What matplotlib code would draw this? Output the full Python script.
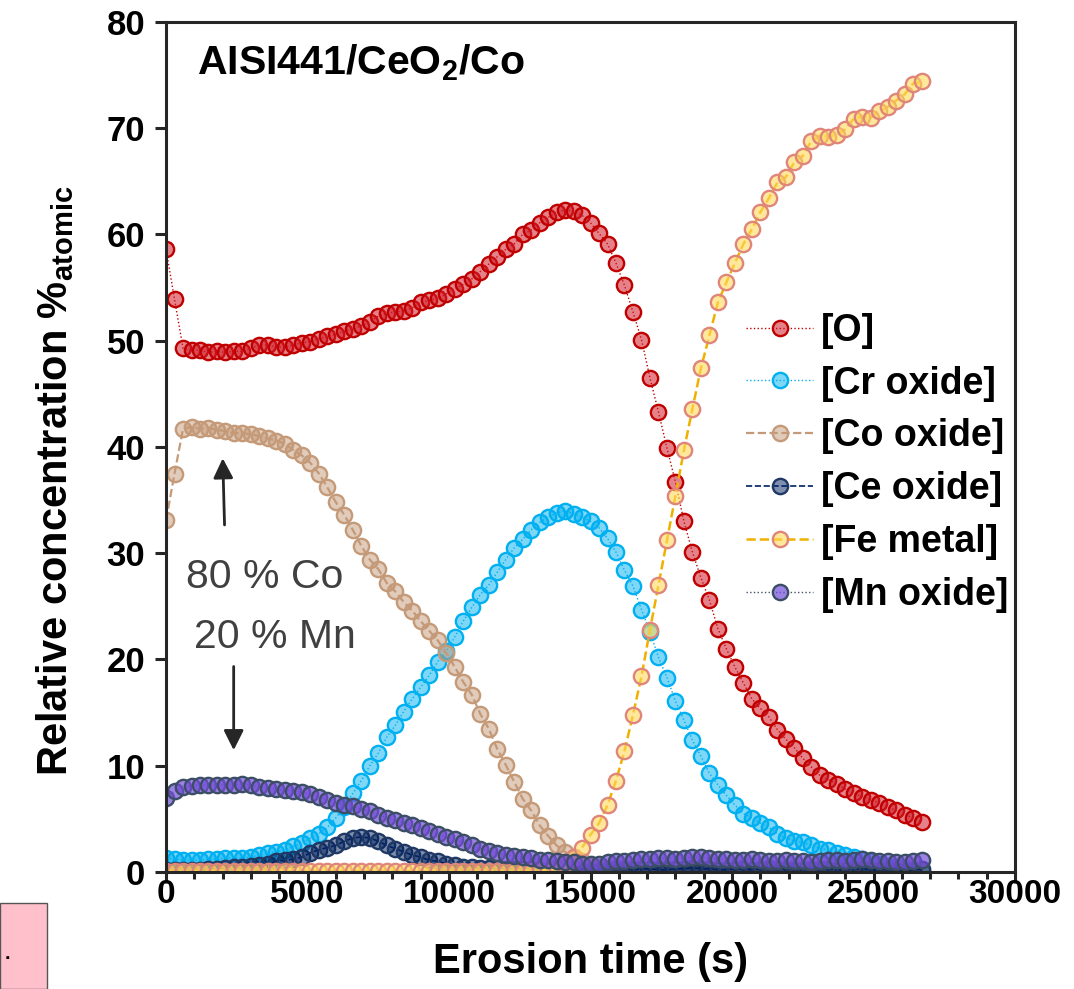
import matplotlib
matplotlib.use("Agg")
import matplotlib.pyplot as plt
from matplotlib.patches import Rectangle
from matplotlib.ticker import MultipleLocator

plt.rcParams['font.family'] = ['Liberation Sans', 'DejaVu Sans']
plt.rcParams['mathtext.fontset'] = 'custom'
plt.rcParams['mathtext.rm'] = 'Liberation Sans'
plt.rcParams['mathtext.bf'] = 'Liberation Sans:bold'

# erosion time (s)
time_s = [0, 300, 600, 900, 1200, 1500, 1800, 2100, 2400, 2700,
          3000, 3300, 3600, 3900, 4200, 4500, 4800, 5100, 5400, 5700,
          6000, 6300, 6600, 6900, 7200, 7500, 7800, 8100, 8400, 8700,
          9000, 9300, 9600, 9900, 10200, 10500, 10800, 11100, 11400, 11700,
          12000, 12300, 12600, 12900, 13200, 13500, 13800, 14100, 14400, 14700,
          15000, 15300, 15600, 15900, 16200, 16500, 16800, 17100, 17400, 17700,
          18000, 18300, 18600, 18900, 19200, 19500, 19800, 20100, 20400, 20700,
          21000, 21300, 21600, 21900, 22200, 22500, 22800, 23100, 23400, 23700,
          24000, 24300, 24600, 24900, 25200, 25500, 25800, 26100, 26400, 26700]

o_conc = [58.6, 53.9, 49.3, 49.1, 49.1, 48.9, 49.0, 48.9, 49.0, 49.0,
          49.3, 49.6, 49.6, 49.4, 49.4, 49.6, 49.8, 49.9, 50.2, 50.4,
          50.6, 50.9, 51.1, 51.4, 51.8, 52.3, 52.6, 52.7, 52.8, 53.1,
          53.6, 53.8, 54.0, 54.4, 54.9, 55.3, 55.8, 56.5, 57.2, 57.9,
          58.6, 59.1, 60.0, 60.4, 61.1, 61.6, 62.1, 62.3, 62.2, 61.8,
          61.1, 60.1, 59.1, 57.3, 55.2, 52.7, 50.1, 46.5, 43.3, 39.9,
          36.7, 33.0, 30.1, 27.7, 25.6, 22.9, 21.0, 19.3, 17.8, 16.3,
          15.4, 14.6, 13.4, 12.5, 11.7, 10.7, 9.9, 9.1, 8.7, 8.3,
          7.8, 7.4, 7.1, 6.8, 6.5, 6.1, 5.8, 5.4, 5.1, 4.7]

cr_conc = [1.3, 1.2, 1.1, 1.1, 1.1, 1.2, 1.2, 1.3, 1.3, 1.3,
           1.4, 1.6, 1.8, 1.9, 2.1, 2.4, 2.7, 3.2, 3.6, 4.2,
           5.1, 6.1, 7.4, 8.6, 10.0, 11.2, 12.7, 13.8, 15.1, 16.3,
           17.4, 18.5, 19.8, 20.8, 22.1, 23.6, 24.9, 26.1, 27.0, 28.2,
           29.4, 30.5, 31.3, 32.2, 32.9, 33.4, 33.8, 34.0, 33.7, 33.4,
           33.0, 32.4, 31.4, 30.1, 28.4, 26.9, 24.7, 22.6, 20.2, 18.3,
           16.1, 14.3, 12.4, 10.9, 9.3, 8.2, 7.2, 6.3, 5.5, 5.1,
           4.6, 4.2, 3.6, 3.2, 2.9, 2.8, 2.5, 2.2, 2.1, 1.8,
           1.6, 1.4, 1.2, 1.0, 0.8, 0.6, 0.5, 0.4, 0.2, 0.1]

co_conc = [33.1, 37.5, 41.7, 41.9, 41.7, 41.8, 41.6, 41.5, 41.3, 41.3,
           41.2, 41.0, 40.8, 40.6, 40.3, 39.7, 39.2, 38.5, 37.5, 36.2,
           34.8, 33.6, 32.2, 30.7, 29.4, 28.5, 27.2, 26.4, 25.4, 24.6,
           23.6, 22.7, 21.8, 20.6, 19.3, 17.9, 16.7, 14.9, 13.5, 11.6,
           10.1, 8.5, 6.9, 5.8, 4.4, 3.4, 2.5, 1.9, 1.4, 1.0,
           0.7, 0.5, 0.4, 0.4, 0.4, 0.3, 0.3, 0.3, 0.3, 0.3,
           0.2, 0.3, 0.2, 0.2, 0.2, 0.2, 0.2, 0.2, 0.3, 0.2,
           0.2, 0.2, 0.2, 0.1, 0.1, 0.2, 0.2, 0.1, 0.1, 0.1,
           0.2, 0.1, 0.1, 0.1, 0.1, 0.1, 0.2, 0.1, 0.1, 0.1]

ce_conc = [0.2, 0.2, 0.2, 0.2, 0.2, 0.3, 0.3, 0.4, 0.45, 0.5,
           0.6, 0.7, 0.8, 1.0, 1.1, 1.2, 1.4, 1.8, 2.1, 2.3,
           2.5, 2.9, 3.2, 3.3, 3.2, 2.9, 2.5, 2.2, 1.9, 1.6,
           1.4, 1.1, 1.0, 0.8, 0.7, 0.5, 0.45, 0.4, 0.4, 0.35,
           0.3, 0.3, 0.3, 0.25, 0.2, 0.2, 0.15, 0.1, 0.05, 0.05,
           0.1, 0.1, 0.2, 0.3, 0.3, 0.2, 0.3, 0.3, 0.2, 0.2,
           0.3, 0.3, 0.4, 0.3, 0.3, 0.2, 0.2, 0.3, 0.3, 0.2,
           0.3, 0.4, 0.3, 0.3, 0.2, 0.2, 0.3, 0.3, 0.3, 0.2,
           0.2, 0.3, 0.3, 0.2, 0.2, 0.3, 0.2, 0.1, 0.2, 0.3]

fe_conc = [0.1, 0.1, 0.1, 0.1, 0.1, 0.1, 0.1, 0.1, 0.1, 0.1,
           0.1, 0.1, 0.1, 0.1, 0.1, 0.1, 0.1, 0.1, 0.1, 0.1,
           0.1, 0.1, 0.1, 0.1, 0.1, 0.1, 0.1, 0.1, 0.1, 0.1,
           0.1, 0.1, 0.1, 0.1, 0.1, 0.1, 0.1, 0.1, 0.1, 0.1,
           0.1, 0.1, 0.1, 0.1, 0.1, 0.2, 0.4, 0.8, 1.4, 2.3,
           3.5, 4.6, 6.3, 8.6, 11.4, 14.8, 18.4, 22.8, 27.0, 31.2,
           35.4, 39.7, 43.6, 47.4, 50.5, 53.6, 55.5, 57.3, 59.1, 60.5,
           62.1, 63.4, 64.9, 65.4, 66.8, 67.4, 68.8, 69.3, 69.2, 69.4,
           69.9, 70.9, 71.1, 71.0, 71.6, 72.0, 72.6, 73.2, 74.2, 74.4]

mn_conc = [7.0, 7.6, 8.0, 8.1, 8.2, 8.2, 8.2, 8.2, 8.2, 8.3,
           8.2, 8.0, 7.9, 7.8, 7.7, 7.6, 7.5, 7.3, 7.1, 6.8,
           6.5, 6.3, 6.2, 5.9, 5.7, 5.4, 5.1, 4.9, 4.6, 4.4,
           4.1, 3.9, 3.6, 3.3, 3.1, 2.8, 2.5, 2.2, 2.0, 1.8,
           1.6, 1.5, 1.4, 1.3, 1.1, 1.1, 1.0, 0.9, 0.9, 0.8,
           0.8, 0.8, 0.9, 1.0, 1.0, 1.1, 1.2, 1.2, 1.3, 1.3,
           1.2, 1.3, 1.4, 1.4, 1.3, 1.2, 1.2, 1.1, 1.1, 1.2,
           1.1, 1.0, 1.0, 1.1, 1.0, 1.0, 0.9, 1.0, 1.1, 1.1,
           1.0, 1.1, 1.2, 1.1, 1.0, 1.0, 0.9, 0.9, 1.0, 1.1]

labels = ['[O]', '[Cr oxide]', '[Co oxide]', '[Ce oxide]', '[Fe metal]', '[Mn oxide]']

fig = plt.figure(figsize=(10.74, 9.89), dpi=100)
ax = fig.add_axes([0.1546, 0.1183, 0.7905, 0.8595])

ms = 11
mew = 1.7
# [O]
ax.plot(time_s, o_conc, ':', color='#C00000', lw=1.0, marker='o', ms=ms, mew=mew,
        mec='#C00000', mfc=(0.82, 0.1, 0.15, 0.55), label=labels[0])
# [Cr oxide]
ax.plot(time_s, cr_conc, ':', color='#00B0F0', lw=1.0, marker='o', ms=ms, mew=mew,
        mec='#00B0F0', mfc=(0.0, 0.69, 0.94, 0.5), label=labels[1])
# [Co oxide]
ax.plot(time_s, co_conc, '--', color='#C49A78', lw=1.6, marker='o', ms=ms, mew=mew,
        mec='#C49A78', mfc=(0.77, 0.60, 0.47, 0.5), label=labels[2])
# [Ce oxide]
ax.plot(time_s, ce_conc, '--', color='#002060', lw=1.2, marker='o', ms=ms, mew=mew,
        mec='#1F3864', mfc=(0.0, 0.13, 0.38, 0.5), label=labels[3])
# [Fe metal]
ax.plot(time_s, fe_conc, '--', color='#F0B000', lw=1.8, marker='o', ms=ms, mew=mew,
        mec='#E0857A', mfc=(1.0, 0.85, 0.35, 0.6), label=labels[4])
# [Mn oxide]
ax.plot(time_s, mn_conc, ':', color='#44546A', lw=1.0, marker='o', ms=ms, mew=mew,
        mec='#3B4E66', mfc=(0.45, 0.30, 0.85, 0.7), label=labels[5])

ax.set_xlim(0, 30000)
ax.set_ylim(0, 80)
ax.xaxis.set_major_locator(MultipleLocator(5000))
ax.xaxis.set_minor_locator(MultipleLocator(1000))
ax.yaxis.set_major_locator(MultipleLocator(10))

for sp in ax.spines.values():
    sp.set_linewidth(2.2)
    sp.set_color('#262626')
ax.tick_params(axis='both', which='major', direction='out', length=8, width=2.2,
               color='#262626')
ax.tick_params(axis='x', which='major', labelsize=24, pad=-3)
ax.tick_params(axis='y', which='major', labelsize=25, pad=7)
ax.tick_params(axis='x', which='minor', direction='out', length=5, width=2.2,
               color='#262626')
for lab in ax.get_xticklabels() + ax.get_yticklabels():
    lab.set_fontweight('bold')

ax.set_xlabel('Erosion time (s)', fontsize=30, fontweight='bold', labelpad=23)
ax.set_ylabel(r'Relative concentration %$_\mathbf{atomic}$', fontsize=30,
              fontweight='bold', labelpad=22)
ax.yaxis.label.set_y(0.46)

ax.text(1110, 76.2, r'AISI441/CeO$_\mathbf{2}$/Co', fontsize=29.5, fontweight='bold',
        ha='left', va='center')

ax.text(3500, 27.8, '80 % Co', fontsize=29.5, color='#404040', ha='center', va='center')
ax.text(3860, 22.1, '20 % Mn', fontsize=29.5, color='#404040', ha='center', va='center')
ax.annotate('', xy=(2000, 39.2), xytext=(2070, 32.4),
            arrowprops=dict(arrowstyle='-|>', color='#262626', lw=2,
                            mutation_scale=30))
ax.annotate('', xy=(2390, 11.2), xytext=(2390, 19.6),
            arrowprops=dict(arrowstyle='-|>', color='#262626', lw=2,
                            mutation_scale=30))

leg = ax.legend(loc='upper left', bbox_to_anchor=(0.661, 0.680), frameon=False,
                prop={'weight': 'bold', 'size': 27}, handlelength=1.8,
                handletextpad=0.2, labelspacing=0.45, borderpad=0)

# pink box fragment at bottom-left corner
fig.patches.append(Rectangle((0, 0), 47 / 1074, 86 / 989, transform=fig.transFigure,
                             facecolor='#FFC0CB', edgecolor='#555555', lw=1))
fig.text(5 / 1074, 30 / 989, '.', fontsize=14, fontweight='bold')

fig.savefig('out.png', dpi=100)
